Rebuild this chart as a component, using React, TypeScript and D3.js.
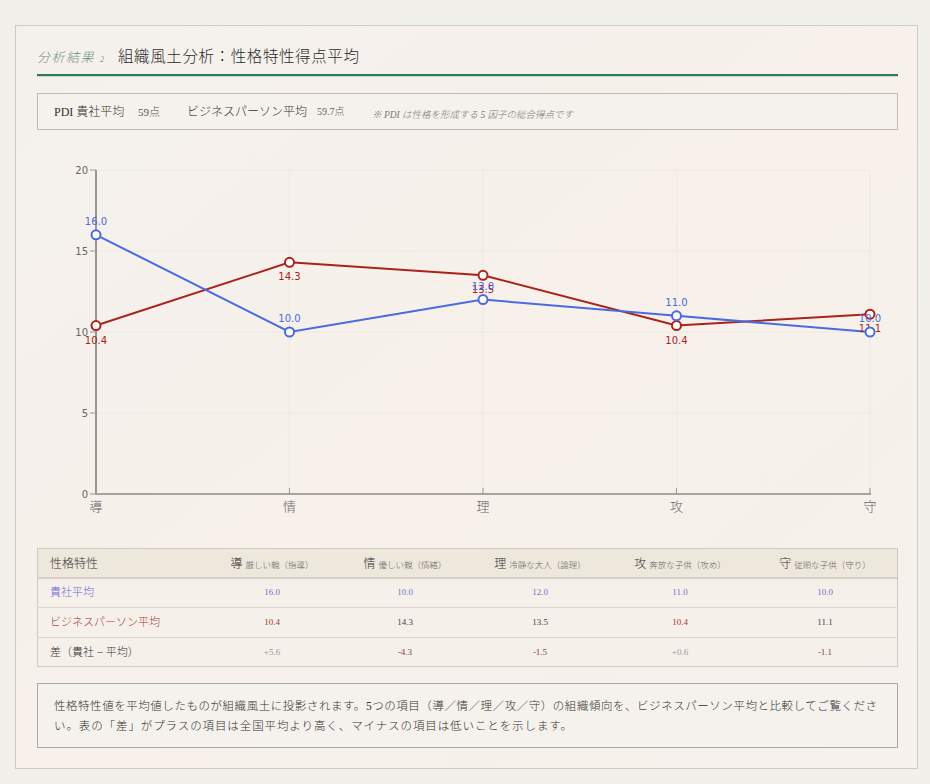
import React from "react";
import * as d3 from "d3";

const categories = ["導", "情", "理", "攻", "守"];
const categorySub = ["厳しい親（指導）", "優しい親（情緒）", "冷静な大人（論理）", "奔放な子供（攻め）", "従順な子供（守り）"];
const companyValues = [16.0, 10.0, 12.0, 11.0, 10.0];
const businessValues = [10.4, 14.3, 13.5, 10.4, 11.1];
const yTicks = [0, 5, 10, 15, 20];
const diffLabels = ["+5.6", "-4.3", "-1.5", "+0.6", "-1.1"];

const BLUE = "#4a6be0";
const RED = "#a8231a";
const SERIF = "'Liberation Serif', 'DejaVu Serif', 'Noto Sans CJK JP', serif";
const JP = "'Liberation Serif', 'Noto Sans CJK JP', serif";
const SANS = "'DejaVu Sans', 'Noto Sans CJK JP', sans-serif";
const W = 300;

export default function App() {
  const x = d3.scalePoint<string>().domain(categories).range([96, 870]);
  const y = d3.scaleLinear().domain([0, 20]).range([494, 170]);
  const line = d3
    .line<number>()
    .x((_, i) => x(categories[i]) as number)
    .y((d) => y(d));

  const colX = [272, 405, 540, 680, 825];
  const rowY = [592, 622, 652];

  return (
    <div style={{ position: "absolute", left: 0, top: 0 }}>
      <svg width={930} height={784} style={{ display: "block" }}>
        <defs>
          <linearGradient id="cardbg" x1="0" y1="0" x2="1" y2="1">
            <stop offset="0%" stopColor="#f4f1ec" />
            <stop offset="50%" stopColor="#f7f0eb" />
            <stop offset="100%" stopColor="#f6f1ec" />
          </linearGradient>
        </defs>
        <rect x={0} y={0} width={930} height={784} fill="#f2f0eb" />
        <rect x={15.5} y={25.5} width={902} height={743} fill="url(#cardbg)" stroke="#cdcac4" />

        {/* Title */}
        <text x={37} y={62} fontFamily={JP} fontWeight={W} fontSize={13} fontStyle="italic" fill="#6f8f80" letterSpacing={1.5}>
          分析結果
        </text>
        <text x={100} y={62} fontFamily={SERIF} fontSize={8} fontStyle="italic" fill="#7f9a8c">2</text>
        <text x={118} y={62} fontFamily={JP} fontWeight={W} fontSize={15.5} fill="#2a2a2a" letterSpacing={0.6}>
          組織風土分析：性格特性得点平均
        </text>
        <rect x={37} y={74} width={861} height={2.2} fill="#2f7a5c" />

        {/* Info box */}
        <rect x={37.5} y={93.5} width={860} height={36} fill="#f5f1ec" stroke="#bdbab4" />
        <text x={54} y={116} fontFamily={JP} fontWeight={W} fontSize={12} fill="#333">PDI 貴社平均</text>
        <text x={138} y={116} fontFamily={JP} fontWeight={W} fontSize={11} fill="#555">59点</text>
        <text x={187} y={116} fontFamily={JP} fontWeight={W} fontSize={12} fill="#333">ビジネスパーソン平均</text>
        <text x={317} y={115} fontFamily={JP} fontWeight={W} fontSize={10} fill="#666">59.7点</text>
        <text x={372} y={118} fontFamily={JP} fontWeight={W} fontSize={9.5} fontStyle="italic" fill="#777">
          ※ PDI は性格を形成する 5 因子の総合得点です
        </text>

        {/* Grid */}
        {yTicks.slice(1).map((t) => (
          <line key={"gy" + t} x1={96} x2={870} y1={y(t)} y2={y(t)} stroke="#e6e1db" strokeWidth={1} opacity={0.45} />
        ))}
        {categories.slice(1).map((c) => (
          <line key={"gx" + c} x1={x(c)} x2={x(c)} y1={170} y2={494} stroke="#e6e1db" strokeWidth={1} opacity={0.45} />
        ))}

        {/* Y axis */}
        <line x1={96} x2={96} y1={170} y2={495} stroke="#9a9690" strokeWidth={2} />
        {yTicks.map((t) => (
          <g key={"yt" + t}>
            <line x1={90} x2={96} y1={y(t)} y2={y(t)} stroke="#9a9690" strokeWidth={1} />
            <text x={88} y={y(t) + 3.5} textAnchor="end" fontFamily={SANS} fontSize={10} fill="#666">
              {t}
            </text>
          </g>
        ))}
        {/* X axis */}
        <line x1={95} x2={871} y1={494} y2={494} stroke="#a8a49e" strokeWidth={2} />
        {categories.map((c) => (
          <g key={"xt" + c}>
            <line x1={x(c)} x2={x(c)} y1={488} y2={494} stroke="#9a9690" strokeWidth={1} />
            <text x={x(c)} y={511} textAnchor="middle" fontFamily={SANS} fontWeight={W} fontSize={13} fill="#666">
              {c}
            </text>
          </g>
        ))}

        {/* Lines */}
        <path d={line(businessValues) || ""} fill="none" stroke={RED} strokeWidth={2} />
        <path d={line(companyValues) || ""} fill="none" stroke={BLUE} strokeWidth={2} />
        {businessValues.map((v, i) => (
          <g key={"b" + i}>
            <circle cx={x(categories[i])} cy={y(v)} r={4.5} fill="#fff" stroke={RED} strokeWidth={2} />
            <text x={x(categories[i])} y={y(v) + 18} textAnchor="middle" fontFamily={SANS} fontSize={10} fill={RED}>
              {v.toFixed(1)}
            </text>
          </g>
        ))}
        {companyValues.map((v, i) => (
          <g key={"c" + i}>
            <circle cx={x(categories[i])} cy={y(v)} r={4.5} fill="#fff" stroke={BLUE} strokeWidth={2} />
            <text x={x(categories[i])} y={y(v) - 10} textAnchor="middle" fontFamily={SANS} fontSize={10} fill={BLUE}>
              {v.toFixed(1)}
            </text>
          </g>
        ))}

        {/* Table */}
        <rect x={37.5} y={548.5} width={860} height={118} fill="#f6f0eb" stroke="#cfcac3" />
        <rect x={38} y={549} width={859} height={29} fill="#ede7dc" />
        <line x1={37} x2={898} y1={578} y2={578} stroke="#cdc7bf" strokeWidth={1.5} />
        <line x1={37} x2={898} y1={607.5} y2={607.5} stroke="#ddd6cd" />
        <line x1={37} x2={898} y1={637.5} y2={637.5} stroke="#ddd6cd" />
        <text x={50} y={568} fontFamily={JP} fontWeight={W} fontSize={12} fill="#333">性格特性</text>
        {categories.map((c, i) => (
          <text key={"th" + c} x={colX[i]} y={568} textAnchor="middle" fontFamily={JP} fontWeight={W} fill="#333">
            <tspan fontSize={12}>{c}</tspan>
            <tspan fontSize={8.5} fill="#666" dx={3}>{categorySub[i]}</tspan>
          </text>
        ))}
        <text x={50} y={rowY[0] + 4} fontFamily={JP} fontWeight={W} fontSize={11} fill="#6a6ad6">貴社平均</text>
        <text x={50} y={rowY[1] + 4} fontFamily={JP} fontWeight={W} fontSize={11} fill="#a33a32">ビジネスパーソン平均</text>
        <text x={50} y={rowY[2] + 4} fontFamily={JP} fontWeight={W} fontSize={11} fill="#333">差（貴社 − 平均）</text>
        {companyValues.map((v, i) => (
          <text key={"tc" + i} x={colX[i]} y={rowY[0] + 3} textAnchor="middle" fontFamily={SERIF} fontSize={9} fill="#7070cc">
            {v.toFixed(1)}
          </text>
        ))}
        {businessValues.map((v, i) => (
          <text key={"tb" + i} x={colX[i]} y={rowY[1] + 3} textAnchor="middle" fontFamily={SERIF} fontSize={9}
            fill={v < companyValues[i] ? "#a33a32" : "#444"}>
            {v.toFixed(1)}
          </text>
        ))}
        {diffLabels.map((s, i) => (
          <text key={"td" + i} x={colX[i]} y={rowY[2] + 3} textAnchor="middle" fontFamily={SERIF} fontSize={9}
            fill={s.startsWith("+") ? "#9a9a9a" : "#8a4040"}>
            {s}
          </text>
        ))}

        {/* Note box */}
        <rect x={37.5} y={683.5} width={860} height={64} fill="#f5f1ec" stroke="#a9a7ae" />
        <text x={54} y={710} fontFamily={JP} fontWeight={W} fontSize={11.5} fill="#333" textLength={823} lengthAdjust="spacing">
          性格特性値を平均値したものが組織風土に投影されます。5つの項目（導／情／理／攻／守）の組織傾向を、ビジネスパーソン平均と比較してご覧くださ
        </text>
        <text x={54} y={730} fontFamily={JP} fontWeight={W} fontSize={11.5} fill="#333" letterSpacing={0.9}>
          い。表の「差」がプラスの項目は全国平均より高く、マイナスの項目は低いことを示します。
        </text>
      </svg>
    </div>
  );
}
